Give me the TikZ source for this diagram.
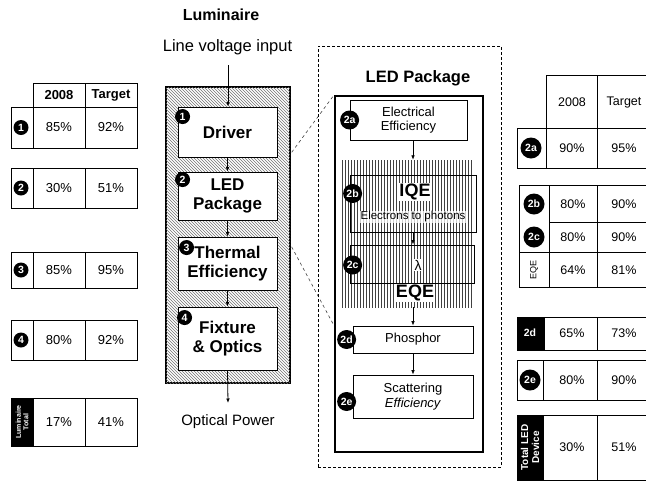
\documentclass[tikz,border=0pt]{standalone}
\usepackage{fontspec}
\setmainfont{Liberation Sans}
\usetikzlibrary{arrows.meta,patterns,positioning,backgrounds}

\tikzset{
	>={Latex[length=4.5pt,width=3.6pt]},
	flow/.style={black, line width=0.8pt, ->},
	link/.style={black!75, line width=0.6pt, dashed},
	cell/.style={black, line width=0.9pt},
	num/.style={circle, fill=black, text=white, inner sep=0pt, minimum size=15pt,
		font=\bfseries\fontsize{10.5}{10.5}\selectfont},
	subnum/.style={num, minimum size=19pt, font=\bfseries\fontsize{10.5}{10.5}\selectfont},
	stage/.style={draw=black, line width=0.9pt, fill=white, align=center, inner sep=0pt,
		font=\bfseries\fontsize{17}{19}\selectfont},
	pkgbox/.style={draw=black, line width=0.8pt, fill=white, align=center, inner sep=0pt,
		font=\fontsize{13}{14.5}\selectfont},
	hdr/.style={font=\bfseries\fontsize{13}{13}\selectfont},
	val/.style={font=\fontsize{13}{13}\selectfont},
	rval/.style={font=\fontsize{12.5}{12.5}\selectfont},
}

\begin{document}
\begin{tikzpicture}[x=1pt, y=-1pt,
		tag/.style={text=white, align=center, rotate=90, inner sep=0pt},
		]
	
	\useasboundingbox (0,0) rectangle (646,483);
	\clip (0,0) rectangle (646,483);
	
	% --- Luminaire chain ---
	\node[font=\bfseries\fontsize{16}{16}\selectfont] (lumtitle) at (221,15) {Luminaire};
	\node[font=\fontsize{16.5}{16.5}\selectfont] (vin) at (227.5,47) {Line voltage input};
	\coordinate (vintop) at (228,65);
	
	\node[draw, line width=1.8pt, fill=white, inner sep=0pt,
		postaction={pattern=north west lines, pattern color=black!55},
		minimum width=124pt, minimum height=296pt] (lum) at (228,235) {};
	
	\node[stage, minimum width=99pt, minimum height=50pt] (drv) at (227.5,132) {Driver};
	\node[stage, minimum width=99pt, minimum height=48pt] (ledp) at (227.5,196) {LED\\Package};
	\node[stage, minimum width=99pt, minimum height=53pt] (therm) at (227.5,263.5) {Thermal\\Efficiency};
	\node[stage, minimum width=99pt, minimum height=63pt] (fix) at (227.5,338.5) {Fixture\\\& Optics};
	
	\node[num] (n1) at ([shift={(5,10)}]drv.north west) {1};
	\node[num] (n2) at ([shift={(5,8)}]ledp.north west) {2};
	\node[num] (n3) at ([shift={(9,11)}]therm.north west) {3};
	\node[num] (n4) at ([shift={(7,11)}]fix.north west) {4};
	
	\draw[flow] (vintop) -- (vintop |- drv.north);
	\draw[flow] (drv.south) -- (ledp.north);
	\draw[flow] (ledp.south) -- (therm.north);
	\draw[flow] (therm.south) -- (fix.north);
	\coordinate (optend) at (228,403);
	\draw[flow] (fix.south) -- (optend);
	\node[font=\fontsize{15}{15}\selectfont] (optp) at (228,422) {Optical Power};
	
	% --- LED package detail ---
	\node[draw, line width=0.8pt, dash pattern=on 3pt off 2pt, inner sep=0pt,
		minimum width=183pt, minimum height=421pt] (pkgframe) at (409.5,256.5) {};
	\node[font=\bfseries\fontsize{16.5}{16.5}\selectfont] (pkgtitle) at (418,78) {LED Package};
	\node[draw, line width=2pt, inner sep=0pt, minimum width=148pt, minimum height=356pt] (pkg) at (409,274) {};
	
	\node[pkgbox, minimum width=117pt, minimum height=40pt] (pa) at (408.5,120) {Electrical\\Efficiency};
	
	\node[inner sep=0pt, minimum width=131pt, minimum height=147pt,
		pattern=vertical lines, pattern color=black!75] (eqe) at (407.5,233.5) {};
	\node[draw, line width=0.8pt, inner sep=0pt, minimum width=126pt, minimum height=57pt] (pb) at (413,203.5) {};
	\node[font=\bfseries\fontsize{18}{18}\selectfont, fill=white, inner sep=1pt] (iqe) at (415,192) {IQE};
	\node[font=\fontsize{11.5}{11.5}\selectfont, fill=white, fill opacity=0.75, text opacity=1,
		inner sep=1pt] (e2p) at (413,217) {Electrons to photons};
	\node[draw, line width=0.8pt, inner sep=0pt, minimum width=124pt, minimum height=38pt] (pc) at (412,264) {};
	\node[font=\fontsize{14}{14}\selectfont, fill=white, inner sep=1pt] (lam) at (418,265) {λ};
	\node[font=\bfseries\fontsize{18}{18}\selectfont, fill=white, inner sep=1pt] (eqelab) at (415,293) {EQE};
	
	\node[pkgbox, minimum width=120pt, minimum height=27pt] (pd) at (413,339.5) {Phosphor};
	\node[pkgbox, minimum width=120pt, minimum height=43pt] (pe) at (413,396.5) {Scattering\\\textit{Efficiency}};
	
	\node[subnum] (c2a) at (pa.west) {2a};
	\node[subnum] (c2b) at ([shift={(3,-10)}]pb.west) {2b};
	\node[subnum] (c2c) at ([shift={(3,1)}]pc.west) {2c};
	\node[subnum] (c2d) at ([shift={(-6,0)}]pd.west) {2d};
	\node[subnum] (c2e) at ([shift={(-6,5)}]pe.west) {2e};
	
	\draw[flow] (pa.south -| pd.north) -- (eqe.north -| pd.north);
	\draw[flow] (pb.south) -- (pb.south |- pc.north);
	\draw[flow] (eqe.south -| pd.north) -- (pd.north);
	\draw[flow] (pd.south) -- (pe.north);
	
	% zoom lines (hidden under the luminaire box)
	\begin{pgfonlayer}{background}
		\draw[link] (ledp.north east) -- (pkg.north west);
		\draw[link] (ledp.south east) -- (pkg.west |- pd.north);
	\end{pgfonlayer}
	
	% --- Left table: luminaire ---
	\draw[cell] (33,83) rectangle (85,107) (85,83) rectangle (137,107);
	\node[hdr] (lh1) at (59,95) {2008};
	\node[hdr] (lh2) at (111,95) {Target};
	\foreach \n/\t/\b/\va/\vb in {1/107/148/85\%/92\%, 2/168/208/30\%/51\%,
		3/252/288/85\%/95\%, 4/320/360/80\%/92\%} {
		\draw[cell] (11,\t) rectangle (33,\b) (33,\t) rectangle (85,\b) (85,\t) rectangle (137,\b);
		\node[num] (lnum\n) at (21,{(\t+\b)/2}) {\n};
		\node[val] (la\n) at (59,{(\t+\b)/2}) {\va};
		\node[val] (lb\n) at (111,{(\t+\b)/2}) {\vb};
	}
	\fill[black] (11,398) rectangle (33,446);
	\draw[cell] (11,398) rectangle (33,446) (33,398) rectangle (85,446) (85,398) rectangle (137,446);
	\node[tag, font=\bfseries\fontsize{7}{7.5}\selectfont] (ltot) at (22,422) {Luminaire\\Total};
	\node[val] (latot) at (59,422) {17\%};
	\node[val] (lbtot) at (111,422) {41\%};
	
	% --- Right table: LED package ---
	\draw[cell] (546,75) rectangle (597,128) (597,75) rectangle (652,128);
	\node[rval] (rh1) at (572,102) {2008};
	\node[rval] (rh2) at (624,102) {Target};
	
	\draw[cell] (517,128) rectangle (546,168) (546,128) rectangle (597,168) (597,128) rectangle (652,168);
	\node[subnum, minimum size=21pt] (r2a) at (531,148) {2a};
	\node[rval] (ra2a) at (572,148) {90\%};
	\node[rval] (rb2a) at (624,148) {95\%};
	
	\draw[cell] (519,185) rectangle (652,287);
	\draw[cell] (549,185) -- (549,287) (597,185) -- (597,287)
		(549,222) -- (652,222) (519,252) -- (652,252);
	\node[subnum, minimum size=21pt] (r2b) at (534,204) {2b};
	\node[subnum, minimum size=21pt] (r2c) at (534,237) {2c};
	\node[rotate=90, font=\fontsize{9}{9}\selectfont] (reqe) at (534,270) {EQE};
	\node[rval] (ra2b) at (573,204) {80\%};
	\node[rval] (rb2b) at (624,204) {90\%};
	\node[rval] (ra2c) at (573,237) {80\%};
	\node[rval] (rb2c) at (624,237) {90\%};
	\node[rval] (raeqe) at (573,270) {64\%};
	\node[rval] (rbeqe) at (624,270) {81\%};
	
	\fill[black] (517,317) rectangle (544,350);
	\draw[cell] (517,317) rectangle (652,350) (544,317) -- (544,350) (597,317) -- (597,350);
	\node[subnum, minimum size=21pt] (r2d) at (530,333) {2d};
	\node[rval] (ra2d) at (572,333) {65\%};
	\node[rval] (rb2d) at (624,333) {73\%};
	
	\draw[cell] (517,360) rectangle (652,400) (543,360) -- (543,400) (597,360) -- (597,400);
	\node[subnum, minimum size=21pt] (r2e) at (530,380) {2e};
	\node[rval] (ra2e) at (572,380) {80\%};
	\node[rval] (rb2e) at (624,380) {90\%};
	
	\fill[black] (517,415) rectangle (543,480);
	\draw[cell] (517,415) rectangle (652,480) (543,415) -- (543,480) (597,415) -- (597,480);
	\node[tag, font=\bfseries\fontsize{10}{11}\selectfont] (rtot) at (530,447.5) {Total LED\\Device};
	\node[rval] (ratot) at (572,447) {30\%};
	\node[rval] (rbtot) at (624,447) {51\%};
	
\end{tikzpicture}
\end{document}
